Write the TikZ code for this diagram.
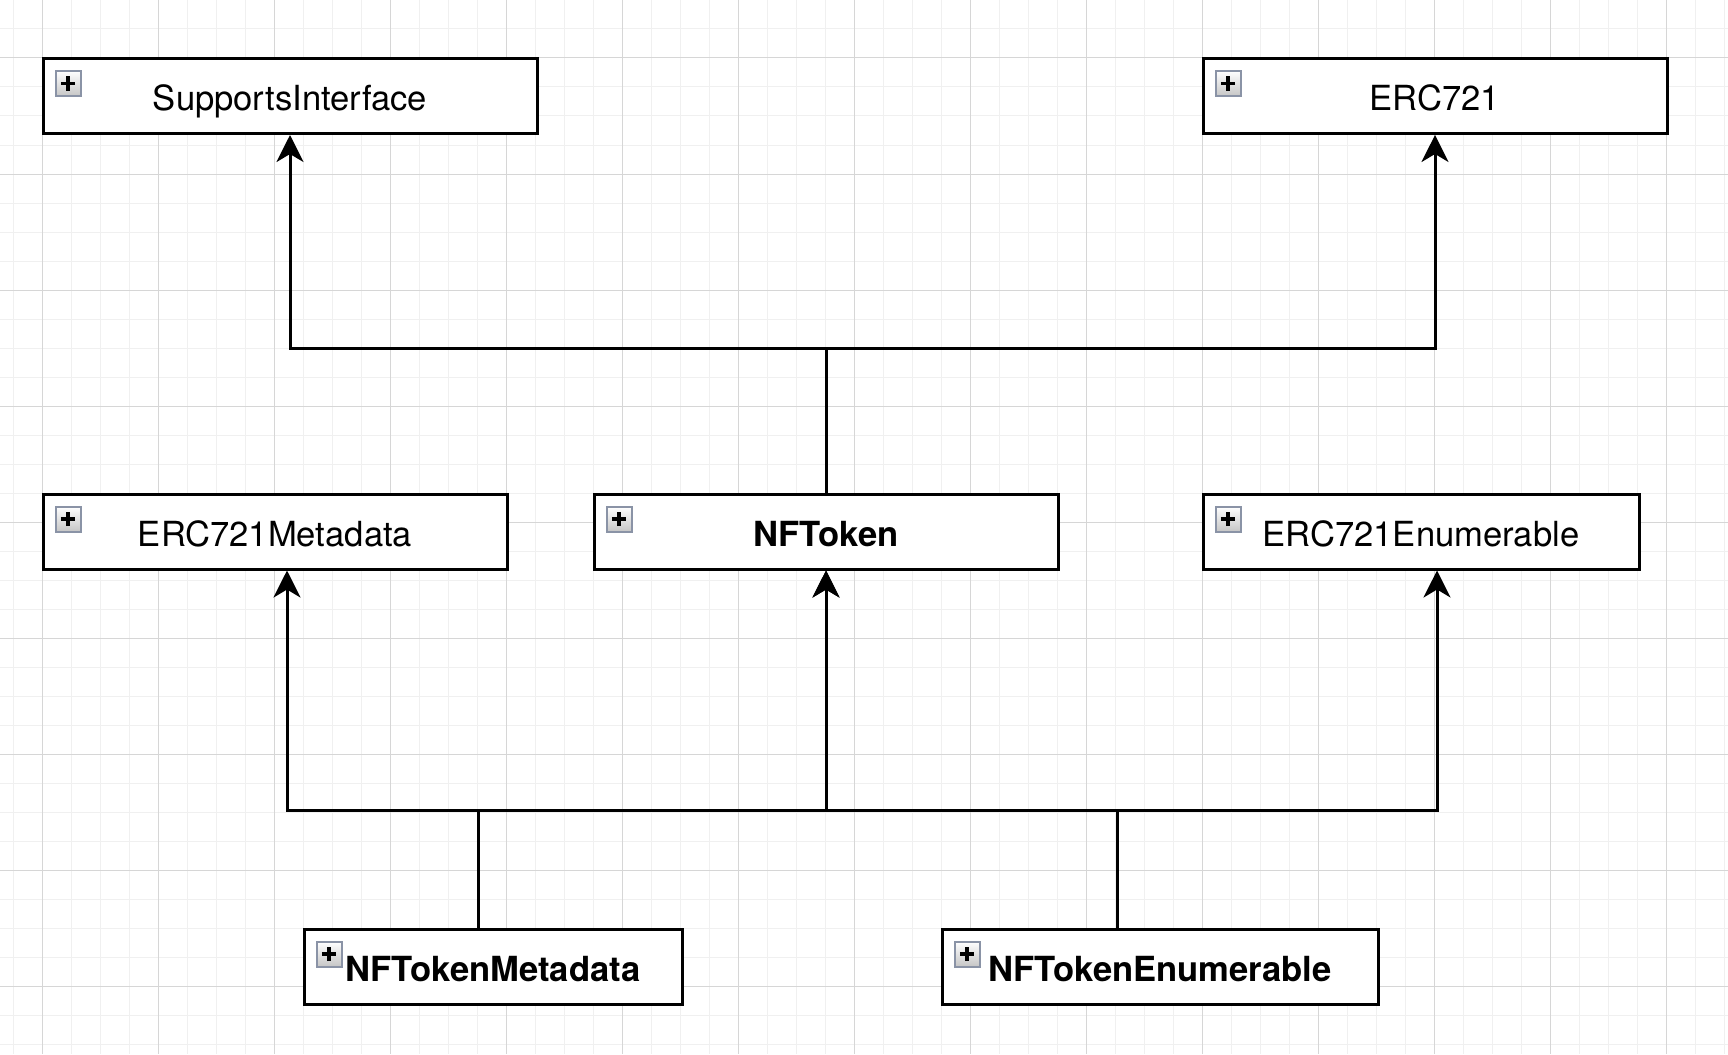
\documentclass[tikz,border=0pt]{standalone}
\usepackage{fontspec}
\setmainfont{TeX Gyre Heros}
\usepackage{xcolor}
\usetikzlibrary{arrows.meta, positioning, calc}

\definecolor{gridminor}{HTML}{F0F0F0}
\definecolor{gridmajor}{HTML}{D6D6D6}
\definecolor{iconedge}{HTML}{8A93A6}

%% small "+" expander in the top left corner of a class box
\newcommand{\expandicon}[1]{%
  \node[plusbox] (#1-icon) at ($(#1.north west)+(13,13)$) {};
  \draw[line width=1.7pt] ($(#1-icon.center)+(-3.6pt,0)$) -- ($(#1-icon.center)+(3.6pt,0)$);
  \draw[line width=1.7pt] ($(#1-icon.center)+(0,-3.6pt)$) -- ($(#1-icon.center)+(0,3.6pt)$);
}

\begin{document}
\begin{tikzpicture}[
  x=0.5pt, y=-0.5pt,
  cls/.style={rectangle, draw=black, line width=1.5pt, fill=white,
              minimum height=37.5pt, inner sep=0pt,
              text height=14.6pt, text depth=0pt,
              font=\fontsize{17.3}{20}\selectfont},
  bcls/.style={cls, font=\fontsize{17.3}{20}\selectfont\bfseries},
  plusbox/.style={rectangle, anchor=north west, minimum size=12.5pt, inner sep=0pt,
                  draw=iconedge, line width=1pt,
                  top color=white, bottom color=gray!45},
  inh/.style={-{Stealth[length=13.5pt, width=13.5pt, inset=4pt]}, line width=1.5pt},
]

\useasboundingbox[fill=white] (0,0) rectangle (1728,1054);

%% ---- grid ----
\foreach \i in {0,...,59}
  \draw[gridminor, line width=0.5pt] (13+29*\i,0) -- (13+29*\i,1054);
\foreach \j in {0,...,36}
  \draw[gridminor, line width=0.5pt] (0,29*\j) -- (1728,29*\j);
\foreach \i in {0,...,14}
  \draw[gridmajor, line width=0.5pt] (42+116*\i,0) -- (42+116*\i,1054);
\foreach \j in {0,...,8}
  \draw[gridmajor, line width=0.5pt] (0,58+116*\j) -- (1728,58+116*\j);

%% ---- interfaces ----
\node[cls, minimum width=247pt] (supports) at (290,96) {SupportsInterface};
\node[cls, minimum width=232pt] (erc721)   at (1435,96) {ERC721};

%% ---- middle row ----
\node[cls,  minimum width=232pt] (meta)    at (275,531.5)  {ERC721Metadata};
\node[bcls, minimum width=232pt] (nftoken) at (826,531.5)  {NFToken};
\node[cls,  minimum width=218pt] (enum)    at (1421,531.5) {ERC721Enumerable};

%% ---- implementations ----
\node[bcls, minimum width=189pt] (nftmeta) at (493,966.5)  {NFTokenMetadata};
\node[bcls, minimum width=218pt] (nftenum) at (1160,966.5) {NFTokenEnumerable};

\foreach \n in {supports, erc721, meta, nftoken, enum, nftmeta, nftenum}{
  \expandicon{\n}
}

%% ---- inheritance ----
\coordinate (topbus) at (826,348);
\draw[inh] (nftoken.north) -- (topbus) -| (supports.south);
\draw[inh] (nftoken.north) -- (topbus) -| (erc721.south);

\draw[inh] ([xshift=-7.5pt]nftmeta.north) -- ++(0,-117) -| ([xshift=6pt]meta.south);
\draw[inh] ([xshift=-7.5pt]nftmeta.north) -- ++(0,-117) -| (nftoken.south);
\draw[inh] ([xshift=-21.5pt]nftenum.north) -- ++(0,-117) -| (nftoken.south);
\draw[inh] ([xshift=-21.5pt]nftenum.north) -- ++(0,-117) -| ([xshift=8pt]enum.south);

\end{tikzpicture}
\end{document}
